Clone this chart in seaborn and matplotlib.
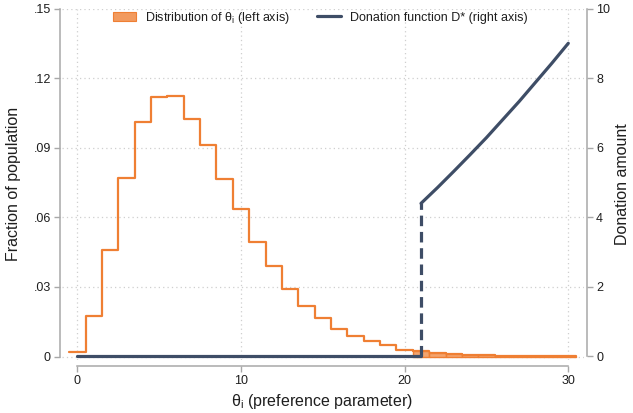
import numpy as np
import pandas as pd
import matplotlib
matplotlib.use("Agg")
import matplotlib.pyplot as plt
from matplotlib.patches import Patch
from matplotlib.lines import Line2D
import seaborn as sns

# Distribution of the preference parameter (one bin per integer value of theta)
theta_bins = list(range(0, 31))
frac_pop = [0.0018, 0.0173, 0.0460, 0.0770, 0.1010, 0.1118, 0.1122, 0.1024,
            0.0913, 0.0765, 0.0634, 0.0494, 0.0390, 0.0290, 0.0219, 0.0167,
            0.0117, 0.0087, 0.0068, 0.0048, 0.0030, 0.0024, 0.0016, 0.0011,
            0.0008, 0.0005, 0.0004, 0.0003, 0.0002, 0.0002, 0.0001]

# Donation function: zero below the threshold, positive above it
threshold = 21
zero_theta = [0, 21]
donor_theta = [21, 22, 23, 24, 25, 26, 27, 28, 29, 30]
donation = [4.40, 4.85, 5.32, 5.80, 6.29, 6.81, 7.33, 7.88, 8.43, 9.00]

left_ticks = [0, 0.03, 0.06, 0.09, 0.12, 0.15]
left_ticklabels = ["0", ".03", ".06", ".09", ".12", ".15"]
right_ticks = [0, 2, 4, 6, 8, 10]
x_ticks = [0, 10, 20, 30]

ORANGE = "#ef7f33"
ORANGE_FILL = "#f29a5e"
NAVY = "#3e4d66"
AXIS_GRAY = "#a8a8a8"
GRID_GRAY = "#cfcfcf"
TEXT = "#1e1e1e"

sns.set_theme(style="white")
plt.rcParams["font.family"] = ["Liberation Sans", "DejaVu Sans"]
plt.rcParams["mathtext.fontset"] = "custom"
plt.rcParams["mathtext.rm"] = "Liberation Sans"
plt.rcParams["mathtext.it"] = "Liberation Sans"

W, H = 633, 413
fig = plt.figure(figsize=(W / 100, H / 100), dpi=100)
ax = fig.add_axes([62 / W, (H - 360) / H, 522 / W, 351.5 / H])

dist = pd.DataFrame({"theta": theta_bins, "frac": frac_pop})
edges = [t - 0.5 for t in theta_bins] + [theta_bins[-1] + 0.5]

# outline histogram of the whole distribution
sns.histplot(data=dist, x="theta", weights="frac", bins=edges, element="step",
             fill=False, color=ORANGE, linewidth=1.6, ax=ax, zorder=3)

# shaded bins for donors (theta at or above the threshold)
tail = dist[dist["theta"] >= threshold]
tail_edges = [t - 0.5 for t in tail["theta"]] + [tail["theta"].iloc[-1] + 0.5]
sns.histplot(data=tail, x="theta", weights="frac", bins=tail_edges,
             element="bars", fill=True, color=ORANGE_FILL, edgecolor=ORANGE,
             linewidth=1.0, alpha=0.9, ax=ax, zorder=3)

ax.set_xlim(-0.94, 30.96)
ax.set_ylim(-0.0015, 0.15)
ax.set_yticks(left_ticks)
ax.set_yticklabels(left_ticklabels)
ax.set_xticks(x_ticks)
ax.set_xticklabels([str(t) for t in x_ticks])

for t in left_ticks:
    ax.axhline(t, color=GRID_GRAY, linestyle=(0, (1, 2.5)), linewidth=0.9, zorder=0)
for t in x_ticks:
    ax.axvline(t, color=GRID_GRAY, linestyle=(0, (1, 2.5)), linewidth=0.9, zorder=0)

# donation function on the right axis
ax2 = ax.twinx()
sns.lineplot(x=zero_theta, y=[0, 0], color=NAVY, linewidth=2.3,
             estimator=None, ax=ax2)
sns.lineplot(x=[threshold, threshold], y=[0, donation[0]], color=NAVY,
             linewidth=2.3, estimator=None, sort=False,
             linestyle=(0, (3.3, 1.8)), ax=ax2)
sns.lineplot(x=donor_theta, y=donation, color=NAVY, linewidth=2.3,
             estimator=None, ax=ax2)
ax2.set_ylim(-0.1006, 10)
ax2.set_yticks(right_ticks)
ax2.set_yticklabels([str(t) for t in right_ticks])

# axis styling
for s in ["top", "right"]:
    ax.spines[s].set_visible(False)
for s in ["top", "left", "bottom"]:
    ax2.spines[s].set_visible(False)
ax.spines["left"].set_position(("outward", 1.5))
ax.spines["bottom"].set_position(("outward", 4.3))
ax2.spines["right"].set_position(("outward", 2.2))
ax.spines["left"].set_bounds(0, 0.15)
ax.spines["bottom"].set_bounds(0, 30)
ax2.spines["right"].set_bounds(0, 10)
for sp in [ax.spines["left"], ax.spines["bottom"], ax2.spines["right"]]:
    sp.set_color(AXIS_GRAY)
    sp.set_linewidth(1.1)

ax.tick_params(axis="both", which="major", length=4.3, width=1.0,
               color=AXIS_GRAY, labelsize=9, pad=2.2, labelcolor=TEXT,
               left=True, bottom=True)
ax2.tick_params(axis="y", which="major", length=4.3, width=1.0,
                color=AXIS_GRAY, labelsize=9, pad=2.2, labelcolor=TEXT,
                right=True)

ax.set_xlabel(r"$\mathregular{\theta_i}$ (preference parameter)", fontsize=11.5,
              color=TEXT)
ax.xaxis.set_label_coords(0.499, -0.119)
ax.xaxis.label.set_va("center")
ax.set_ylabel("Fraction of population", fontsize=11.5, color=TEXT,
              va="center", ha="center")
ax.yaxis.set_label_coords(-0.093, 0.5)
ax2.set_ylabel("Donation amount", fontsize=11.5, color=TEXT,
               va="center", ha="center", rotation=90)
ax2.yaxis.set_label_coords(1.0735, 0.5)

handles = [Patch(facecolor=ORANGE_FILL, edgecolor=ORANGE, linewidth=0.8),
           Line2D([0], [0], color=NAVY, linewidth=2.3)]
labels = [r"Distribution of $\mathregular{\theta_i}$ (left axis)",
          "Donation function D* (right axis)"]
fig.legend(handles, labels, loc="center", bbox_to_anchor=(320 / W, 1 - 17.5 / H),
           ncol=2, frameon=False, fontsize=9, handlelength=1.9,
           handleheight=0.75, columnspacing=2.2, handletextpad=0.7,
           labelcolor=TEXT)

fig.savefig("out.png", dpi=100)
